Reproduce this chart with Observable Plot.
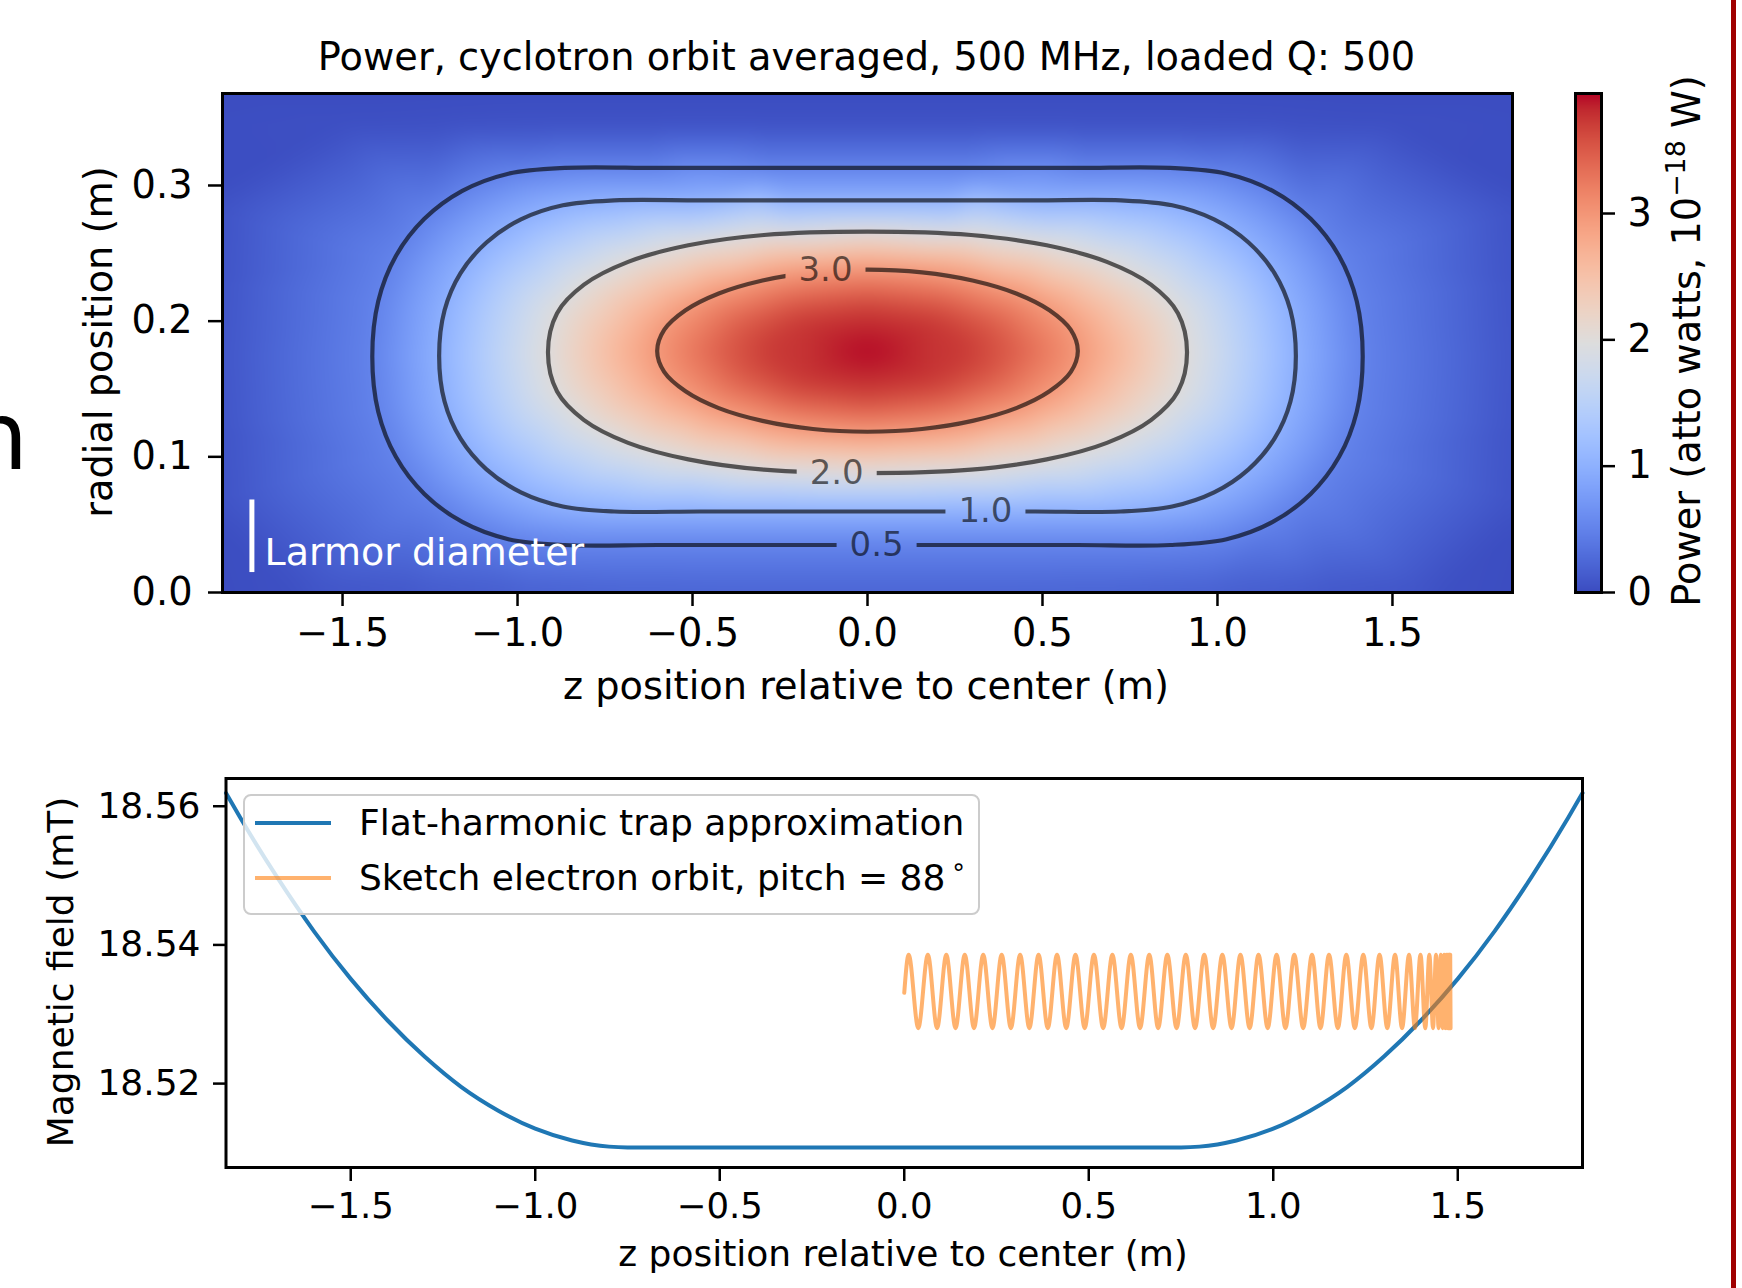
<!DOCTYPE html>
<html><head><meta charset="utf-8">
<script src="https://cdn.jsdelivr.net/npm/d3@7"></script>
<script src="https://cdn.jsdelivr.net/npm/@observablehq/plot@0.6"></script>
<style>
html,body{margin:0;padding:0;background:#fff;}
#root{position:relative;width:1742px;height:1288px;overflow:hidden;font-family:"DejaVu Sans",sans-serif;color:#000;background:#fff;}
#root svg{position:absolute;overflow:visible;}
.t{position:absolute;white-space:nowrap;line-height:1;}
</style></head><body><div id="root"></div>
<script>
// ---------------- DATA ----------------
const titleText = "Power, cyclotron orbit averaged, 500 MHz, loaded Q: 500";
const zTicks = [-1.5, -1.0, -0.5, 0.0, 0.5, 1.0, 1.5];
const rTicks = [0.0, 0.1, 0.2, 0.3];
const bTicks = [18.52, 18.54, 18.56];
const cbTicks = [0, 1, 2, 3];
const powerMax = 3.95;

// contour levels and their traced outlines [z, r]
const contourLevels = [0.5, 1.0, 2.0, 3.0];
const contour05 = [[1.415,0.174],[1.398,0.2147],[1.3476,0.248],[1.2662,0.2754],[1.1579,0.296],[1.0261,0.3087],[0.865,0.313],[0.6,0.313],[0.3,0.313],[0,0.313],[-0.3,0.313],[-0.6,0.313],[-0.865,0.313],[-1.0261,0.3087],[-1.1579,0.296],[-1.2662,0.2754],[-1.3476,0.248],[-1.398,0.2147],
  [-1.415,0.174],[-1.398,0.1333],[-1.3476,0.100],[-1.2662,0.0726],[-1.1579,0.052],[-1.0261,0.0393],[-0.865,0.035],[-0.6,0.035],[-0.3,0.035],[0,0.035],[0.3,0.035],[0.6,0.035],[0.865,0.035],[1.0261,0.0393],[1.1579,0.052],[1.2662,0.0726],[1.3476,0.100],[1.398,0.1333]];
const contour10 = [[1.224,0.1744],[1.2085,0.208],[1.1628,0.2354],[1.0888,0.258],[0.9903,0.275],[0.8705,0.2854],[0.724,0.289],[0.48,0.289],[0.24,0.289],[0,0.289],[-0.24,0.289],[-0.48,0.289],[-0.724,0.289],[-0.8705,0.2854],[-0.9903,0.275],[-1.0888,0.258],[-1.1628,0.2354],[-1.2085,0.208],
  [-1.224,0.1744],[-1.2085,0.1408],[-1.1628,0.1134],[-1.0888,0.0908],[-0.9903,0.0738],[-0.8705,0.0634],[-0.724,0.0597],[-0.48,0.0597],[-0.24,0.0597],[0,0.0597],[0.24,0.0597],[0.48,0.0597],[0.724,0.0597],[0.8705,0.0634],[0.9903,0.0738],[1.0888,0.0908],[1.1628,0.1134],[1.2085,0.1408]];
const contour20 = [[0.913,0.177],[0.887,0.2059],[0.810,0.2269],[0.684,0.2437],[0.512,0.2559],[0.296,0.2635],[0,0.266],[-0.296,0.2635],[-0.512,0.2559],[-0.684,0.2437],[-0.810,0.2269],[-0.887,0.2059],[-0.913,0.177],[-0.887,0.1481],[-0.810,0.1271],[-0.684,0.1103],[-0.512,0.0981],[-0.296,0.0905],[0,0.088],[0.296,0.0905],[0.512,0.0981],[0.684,0.1103],[0.810,0.1271],[0.887,0.1481]];
const contour30 = [[0.601,0.178],[0.581,0.1935],[0.520,0.208],[0.425,0.2204],[0.300,0.230],[0.156,0.236],[0,0.238],[-0.156,0.236],[-0.300,0.230],[-0.425,0.2204],[-0.520,0.208],[-0.581,0.1935],[-0.601,0.178],[-0.581,0.1626],[-0.520,0.1483],[-0.425,0.1359],[-0.300,0.1265],[-0.156,0.1205],[0,0.1185],[0.156,0.1205],[0.300,0.1265],[0.425,0.1359],[0.520,0.1483],[0.581,0.1626]];
const contourLabelText = ["3.0", "2.0", "1.0", "0.5"];
const contourLabelZ = [-0.120, -0.088, 0.337, 0.026];
const contourLabelR = [0.2375, 0.0883, 0.0597, 0.0351];

// extra read-off field samples
const fieldPeak = [[0, 0.178, 3.95]];
const fieldRing375 = [[0.275,0.178],[0.1945,0.1974],[0,0.2055],[-0.1945,0.1974],[-0.275,0.178],[-0.1945,0.1586],[0,0.1505],[0.1945,0.1586]];
const fieldRing35 = [[0.413,0.178],[0.358,0.1985],[0.2065,0.2135],[0,0.219],[-0.2065,0.2135],[-0.358,0.1985],[-0.413,0.178],[-0.358,0.1575],[-0.2065,0.1425],[0,0.137],[0.2065,0.1425],[0.358,0.1575]];
const fieldEdge = [
  [-1.9,0.372,0],[-1.2,0.372,0],[-0.6,0.372,0],[0,0.372,0],[0.6,0.372,0],[1.2,0.372,0],[1.9,0.372,0],
  [-1.8,0.344,0.02],[-1.5,0.344,0.03],[-1.2,0.344,0.04],[-0.9,0.344,0.05],[-0.6,0.344,0.05],[-0.3,0.344,0.05],[0,0.344,0.05],[0.3,0.344,0.05],[0.6,0.344,0.05],[0.9,0.344,0.05],[1.2,0.344,0.04],[1.5,0.344,0.03],[1.8,0.344,0.02],
  [-1.9,-0.004,0],[-1.6,-0.004,0.04],[-1.3,-0.004,0.08],[-1.0,-0.004,0.13],[-0.6,-0.004,0.17],[-0.3,-0.004,0.18],[0,-0.004,0.18],[0.3,-0.004,0.18],[0.6,-0.004,0.17],[1.0,-0.004,0.13],[1.3,-0.004,0.08],[1.6,-0.004,0.04],[1.9,-0.004,0],
  [-1.9,0.06,0.01],[-1.9,0.12,0.02],[-1.9,0.175,0.03],[-1.9,0.23,0.02],[-1.9,0.29,0.01],
  [1.9,0.06,0.01],[1.9,0.12,0.02],[1.9,0.175,0.03],[1.9,0.23,0.02],[1.9,0.29,0.01]];

const larmorZ = -1.759, larmorR1 = 0.0147, larmorR2 = 0.0682;
const larmorText = "Larmor diameter";

// bottom panel: flat-harmonic trap field (mT)
const trapZ = [-1.838,-1.8,-1.7,-1.6,-1.5,-1.4,-1.3,-1.2,-1.1,-1.0,-0.9,-0.8,-0.75,0,0.75,0.8,0.9,1.0,1.1,1.2,1.3,1.4,1.5,1.6,1.7,1.8,1.838];
const trapB = [18.5619,18.5584,18.5498,18.5420,18.5351,18.5291,18.5239,18.5195,18.5161,18.5135,18.5118,18.51091,18.5108,18.5108,18.5108,18.51091,18.5118,18.5135,18.5161,18.5195,18.5239,18.5291,18.5351,18.5420,18.5498,18.5584,18.5619];

// sketch electron orbit: start, crest and trough positions
const orbitStart = [0.0, 18.5331];
const orbitHigh = 18.5386, orbitLow = 18.5280;
const orbitPeaksZ = [0.012,0.064,0.114,0.164,0.214,0.264,0.314,0.364,0.414,0.464,0.514,0.564,0.614,0.664,0.713,0.763,0.813,0.862,0.911,0.960,1.009,1.057,1.105,1.151,1.198,1.244,1.288,1.330,1.368,1.399,1.423,1.441,1.454,1.463,1.469,1.473,1.476,1.478,1.4795];
const orbitTroughsZ = [0.038,0.089,0.139,0.189,0.239,0.289,0.339,0.389,0.439,0.489,0.539,0.589,0.639,0.688,0.738,0.788,0.837,0.887,0.936,0.985,1.033,1.081,1.128,1.175,1.221,1.266,1.309,1.349,1.384,1.412,1.433,1.448,1.459,1.466,1.471,1.4745,1.477,1.479,1.4805];
const legendLabels = ["Flat-harmonic trap approximation", "Sketch electron orbit, pitch = 88"];

// matplotlib "coolwarm" colormap stops
const coolwarm = ["rgb(59,76,192)","rgb(68,90,204)","rgb(77,104,215)","rgb(87,117,225)","rgb(98,130,234)","rgb(108,142,241)","rgb(119,154,247)","rgb(130,165,251)","rgb(141,176,254)","rgb(152,185,255)","rgb(163,194,255)","rgb(174,201,253)","rgb(184,208,249)","rgb(194,213,244)","rgb(204,217,238)","rgb(213,219,230)","rgb(221,221,221)","rgb(229,216,209)","rgb(236,211,197)","rgb(241,204,185)","rgb(245,196,173)","rgb(247,187,160)","rgb(247,177,148)","rgb(247,166,135)","rgb(244,154,123)","rgb(241,141,111)","rgb(236,127,99)","rgb(229,112,88)","rgb(222,96,77)","rgb(213,80,66)","rgb(203,62,56)","rgb(192,40,47)","rgb(180,4,38)"];

// ---------------- BUILD ----------------
const root = document.getElementById("root");
const fmt1 = d3.format(".1f"), fmt2 = d3.format(".2f");
const colorOpts = {type: "linear", domain: coolwarm.map((_, i) => i * powerMax / (coolwarm.length - 1)), range: coolwarm, interpolate: "rgb"};
const FT = 38.3, FB = 36;

const contourRings = [contour05, contour10, contour20, contour30];
const contourRows = [];
contourRings.forEach((ring, i) => ring.forEach(([z, r]) => contourRows.push({z, r, level: contourLevels[i]})));
const fieldRows = contourRows.map(d => ({z: d.z, r: d.r, v: d.level}));
fieldPeak.forEach(([z, r, v]) => fieldRows.push({z, r, v}));
fieldRing375.forEach(([z, r]) => fieldRows.push({z, r, v: 3.75}));
fieldRing35.forEach(([z, r]) => fieldRows.push({z, r, v: 3.5}));
fieldEdge.forEach(([z, r, v]) => fieldRows.push({z, r, v}));
const labelRows = contourLabelText.map((t, i) => ({t, z: contourLabelZ[i], r: contourLabelR[i]}));

const topW = 1540, topH = 720;
const topPlot = Plot.plot({
  width: topW, height: topH,
  marginLeft: 222, marginRight: topW - 1512, marginTop: 93, marginBottom: topH - 592,
  style: {fontFamily: "DejaVu Sans", fontSize: FT + "px", background: "transparent", color: "#000"},
  x: {domain: [-1.843, 1.843]},
  y: {domain: [0, 0.3678]},
  color: colorOpts,
  marks: [
    Plot.raster(fieldRows, {x: "z", y: "r", fill: "v", interpolate: "barycentric", blur: 10, pixelSize: 1}),
    Plot.line(contourRows, {x: "z", y: "r", z: "level", curve: "catmull-rom-closed", stroke: "black", strokeOpacity: 0.62, strokeWidth: 4.2}),
    Plot.text(labelRows, {x: "z", y: "r", text: "t", fill: "black", fillOpacity: 0.6, fontSize: 34}),
    Plot.ruleX([{z: larmorZ, r1: larmorR1, r2: larmorR2}], {x: "z", y1: "r1", y2: "r2", stroke: "white", strokeWidth: 5}),
    Plot.text([{z: -1.723, r: 0.0295, t: larmorText}], {x: "z", y: "r", text: "t", fill: "white", fontSize: 38, textAnchor: "start"}),
    Plot.frame({stroke: "black", strokeWidth: 3}),
    Plot.axisX({ticks: zTicks, tickFormat: fmt1, tickSize: 14, tickPadding: 12, strokeWidth: 2.5, fontSize: FT, label: null}),
    Plot.axisY({ticks: rTicks, tickFormat: fmt1, tickSize: 14, tickPadding: 16, strokeWidth: 2.5, fontSize: FT, label: null})
  ]
});
topPlot.style.left = "0px"; topPlot.style.top = "0px";
root.appendChild(topPlot);

// gaps in contour lines under the inline labels
{
  const xs = topPlot.scale("x"), ys = topPlot.scale("y");
  const svg = d3.select(topPlot);
  const defs = svg.insert("defs", ":first-child");
  const mask = defs.append("mask").attr("id", "gapmask").attr("maskUnits", "userSpaceOnUse")
    .attr("x", 0).attr("y", 0).attr("width", topW).attr("height", topH);
  mask.append("rect").attr("width", topW).attr("height", topH).attr("fill", "white");
  labelRows.forEach(d => {
    const cx = xs.apply(d.z), cy = ys.apply(d.r);
    mask.append("rect").attr("x", cx - 40).attr("y", cy - 20).attr("width", 80).attr("height", 40).attr("fill", "black");
  });
  svg.select('g[aria-label="line"]').attr("mask", "url(#gapmask)");
}

// colorbar
const cbW = 202;
const cbPlot = Plot.plot({
  width: cbW, height: topH,
  marginLeft: 35, marginRight: cbW - 61, marginTop: 93, marginBottom: topH - 592,
  style: {fontFamily: "DejaVu Sans", fontSize: FT + "px", background: "transparent", color: "#000"},
  x: {domain: [0, 1], axis: null},
  y: {domain: [0, powerMax]},
  color: colorOpts,
  marks: [
    Plot.raster({fill: (x, y) => y, x1: 0, x2: 1, y1: 0, y2: powerMax, pixelSize: 1}),
    Plot.frame({stroke: "black", strokeWidth: 3}),
    Plot.axisY({anchor: "right", ticks: cbTicks, tickFormat: d3.format("d"), tickSize: 13, tickPadding: 13, strokeWidth: 2.5, fontSize: FT, label: null})
  ]
});
cbPlot.style.left = "1540px"; cbPlot.style.top = "0px";
root.appendChild(cbPlot);

// bottom panel
const trapRows = trapZ.map((z, i) => ({z, b: trapB[i]}));
const orbitRows = [{z: orbitStart[0], b: orbitStart[1]}]
  .concat(orbitPeaksZ.map(z => ({z, b: orbitHigh})))
  .concat(orbitTroughsZ.map(z => ({z, b: orbitLow})))
  .sort((a, b) => a.z - b.z);
const botTop = 720, botW = 1742, botH = 568;
const botPlot = Plot.plot({
  width: botW, height: botH,
  marginLeft: 225.5, marginRight: botW - 1582, marginTop: 778 - botTop, marginBottom: botTop + botH - 1167,
  style: {fontFamily: "DejaVu Sans", fontSize: FB + "px", background: "transparent", color: "#000"},
  x: {domain: [-1.838, 1.838]},
  y: {domain: [18.5079, 18.5640]},
  marks: [
    Plot.line(trapRows, {x: "z", y: "b", stroke: "#1f77b4", strokeWidth: 4, curve: "monotone-x"}),
    Plot.line(orbitRows, {x: "z", y: "b", stroke: "#ff7f0e", strokeOpacity: 0.6, strokeWidth: 4, curve: "monotone-x"}),
    Plot.frame({stroke: "black", strokeWidth: 3}),
    Plot.axisX({ticks: zTicks, tickFormat: fmt1, tickSize: 14, tickPadding: 11, strokeWidth: 2.5, fontSize: 35.5, label: null}),
    Plot.axisY({ticks: bTicks, tickFormat: fmt2, tickSize: 12.5, tickPadding: 13, strokeWidth: 2.5, fontSize: FB, label: null})
  ]
});
botPlot.style.left = "0px"; botPlot.style.top = botTop + "px";
root.appendChild(botPlot);

// ---------------- TEXT & DECOR ----------------
function addText(html, cx, cy, fs, rotate) {
  const d = document.createElement("div");
  d.className = "t";
  d.innerHTML = html;
  d.style.fontSize = fs + "px";
  d.style.left = cx + "px"; d.style.top = cy + "px";
  d.style.transform = "translate(-50%,-50%)" + (rotate ? " rotate(" + rotate + "deg)" : "");
  root.appendChild(d);
  return d;
}
addText(titleText, 866.5, 57, FT);
addText("z position relative to center (m)", 866, 686, FT);
addText("radial position (m)", 99, 342, FT, -90);
addText("Power (atto watts, 10<sup style='font-size:70%;vertical-align:0.55em;line-height:0'>\u221218</sup> W)", 1687, 341, FT, -90);
addText("Magnetic field (mT)", 61, 972, FB, -90);
addText("z position relative to center (m)", 903, 1254, FB);

// legend
const leg = document.createElement("div");
Object.assign(leg.style, {position: "absolute", left: "243px", top: "794px", width: "733px", height: "117px",
  border: "2px solid #cccccc", borderRadius: "8px", background: "rgba(255,255,255,0.8)"});
root.appendChild(leg);
[["#1f77b4", 1, 823], ["#ff7f0e", 0.6, 878]].forEach(([c, o, y]) => {
  const s = document.createElement("div");
  Object.assign(s.style, {position: "absolute", left: "255px", top: (y - 2) + "px", width: "76px", height: "4px", background: c, opacity: o});
  root.appendChild(s);
});
const l1 = addText(legendLabels[0], 0, 823, FB); l1.style.left = "359px"; l1.style.transform = "translate(0,-50%)";
const l2 = addText(legendLabels[1] + "<span style='display:inline-block;width:0.15em'></span><sup style='font-size:70%;vertical-align:0.6em;line-height:0'>\u2218</sup>", 0, 878, FB);
l2.style.left = "359px"; l2.style.transform = "translate(0,-50%)";

// slide remnants: letter at left edge, red rule at right edge
const nn = document.createElement("div");
nn.className = "t"; nn.textContent = "n";
Object.assign(nn.style, {left: "-32px", top: "389px", fontSize: "95px"});
root.appendChild(nn);
const red = document.createElement("div");
Object.assign(red.style, {position: "absolute", left: "1731px", top: "0px", width: "5px", height: "1288px", background: "#a00000"});
root.appendChild(red);
</script></body></html>
